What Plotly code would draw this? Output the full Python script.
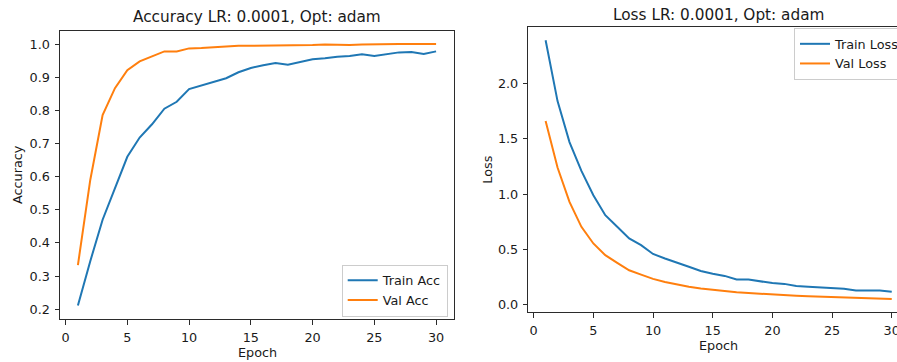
import plotly.graph_objects as go

epochs = list(range(1, 31))

train_acc = [0.211, 0.345, 0.470, 0.565, 0.660, 0.718, 0.758, 0.805, 0.826, 0.864,
             0.875, 0.886, 0.897, 0.915, 0.928, 0.936, 0.943, 0.938, 0.947, 0.954,
             0.957, 0.962, 0.964, 0.969, 0.964, 0.969, 0.975, 0.976, 0.970, 0.978]
val_acc = [0.333, 0.590, 0.786, 0.867, 0.921, 0.948, 0.963, 0.978, 0.978, 0.987,
           0.988, 0.990, 0.994, 0.995, 0.995, 0.995, 0.996, 0.995, 0.995, 0.997,
           0.999, 0.998, 0.997, 0.999, 1.000, 1.000, 1.000, 1.000, 1.000, 1.000]

train_loss = [2.39, 1.84, 1.47, 1.21, 0.99, 0.81, 0.705, 0.60, 0.54, 0.46,
              0.419, 0.379, 0.345, 0.307, 0.281, 0.262, 0.229, 0.229, 0.212, 0.197,
              0.190, 0.170, 0.164, 0.158, 0.154, 0.145, 0.130, 0.130, 0.130, 0.118]
val_loss = [1.66, 1.24, 0.93, 0.705, 0.555, 0.449, 0.380, 0.313, 0.274, 0.235,
            0.207, 0.184, 0.164, 0.148, 0.136, 0.125, 0.115, 0.107, 0.100, 0.094,
            0.088, 0.083, 0.079, 0.075, 0.071, 0.067, 0.063, 0.060, 0.057, 0.054]

acc_yticks = [0.2, 0.3, 0.4, 0.5, 0.6, 0.7, 0.8, 0.9, 1.0]
loss_yticks = [0.0, 0.5, 1.0, 1.5, 2.0]
x_ticks = [0, 5, 10, 15, 20, 25, 30]

BLUE = "#1f77b4"
ORANGE = "#ff7f0e"
FONT = "DejaVu Sans"
W, H = 897, 362
TXT = "#1a1a1a"
AX = "#2b2b2b"
FS = 12.8
TFS = 15.3

fig = go.Figure()
lw = 2.0
fig.add_trace(go.Scatter(x=epochs, y=train_acc, mode="lines", name="Train Acc",
                         line=dict(color=BLUE, width=lw), xaxis="x", yaxis="y", legend="legend"))
fig.add_trace(go.Scatter(x=epochs, y=val_acc, mode="lines", name="Val Acc",
                         line=dict(color=ORANGE, width=lw), xaxis="x", yaxis="y", legend="legend"))
fig.add_trace(go.Scatter(x=epochs, y=train_loss, mode="lines", name="Train Loss",
                         line=dict(color=BLUE, width=lw), xaxis="x2", yaxis="y2", legend="legend2"))
fig.add_trace(go.Scatter(x=epochs, y=val_loss, mode="lines", name="Val Loss",
                         line=dict(color=ORANGE, width=lw), xaxis="x2", yaxis="y2", legend="legend2"))

def px_x(p):
    return p / W

def px_y(p):
    return 1 - p / H

axis_common = dict(showgrid=False, zeroline=False, showline=True, linecolor=AX, linewidth=1,
                   ticks="outside", ticklen=4.5, tickwidth=1, tickcolor=AX,
                   tickfont=dict(family=FONT, size=FS, color=TXT), automargin=False)

fig.update_layout(
    width=W, height=H,
    margin=dict(l=0, r=0, t=0, b=0, autoexpand=False),
    paper_bgcolor="white", plot_bgcolor="white",
    font=dict(family=FONT, size=FS, color=TXT),
    xaxis=dict(domain=[px_x(60), px_x(454)], range=[-0.45, 31.45], tickvals=x_ticks,
               mirror=True, anchor="y", ticklabelstandoff=2, **axis_common),
    yaxis=dict(domain=[px_y(319), px_y(31)], range=[0.1705, 1.0395], tickvals=acc_yticks,
               tickformat=".1f", mirror=True, anchor="x", ticklabelstandoff=2, **axis_common),
    xaxis2=dict(domain=[px_x(528.3), 1.0], range=[-0.45, 30.44], tickvals=x_ticks,
                mirror=True, anchor="y2", ticklabeloverflow="allow", ticklabelstandoff=2,
                **axis_common),
    yaxis2=dict(domain=[px_y(312.3), px_y(27.3)], range=[-0.0665, 2.5065], tickvals=loss_yticks,
                tickformat=".1f", mirror=False, anchor="x2", ticklabelstandoff=2, **axis_common),
    legend=dict(x=px_x(447.7), xanchor="right", y=px_y(316.5), yanchor="bottom",
                bgcolor="rgba(255,255,255,0.8)", bordercolor="#cccccc", borderwidth=1,
                font=dict(family=FONT, size=FS, color=TXT), tracegroupgap=0),
    legend2=dict(x=px_x(794), xanchor="left", y=px_y(28), yanchor="top",
                 bgcolor="rgba(255,255,255,0.8)", bordercolor="#cccccc", borderwidth=1,
                 font=dict(family=FONT, size=FS, color=TXT), tracegroupgap=0),
    showlegend=True,
)

annos = [
    dict(text="Accuracy LR: 0.0001, Opt: adam", x=px_x(257), y=px_y(17.3), size=TFS, angle=0),
    dict(text="Loss LR: 0.0001, Opt: adam", x=px_x(718.5), y=px_y(15), size=TFS, angle=0),
    dict(text="Epoch", x=px_x(257), y=px_y(352.5), size=FS, angle=0),
    dict(text="Epoch", x=px_x(718.5), y=px_y(345.3), size=FS, angle=0),
    dict(text="Accuracy", x=px_x(18), y=px_y(175), size=FS, angle=-90),
    dict(text="Loss", x=px_x(486.7), y=px_y(170), size=FS, angle=-90),
]
for a in annos:
    fig.add_annotation(text=a["text"], x=a["x"], y=a["y"], xref="paper", yref="paper",
                       xanchor="center", yanchor="middle", showarrow=False, textangle=a["angle"],
                       font=dict(family=FONT, size=a["size"], color=TXT))

fig.write_html("out.html", config={"displayModeBar": False},
               post_script="document.body.style.margin='0';document.body.style.overflow='hidden';")
